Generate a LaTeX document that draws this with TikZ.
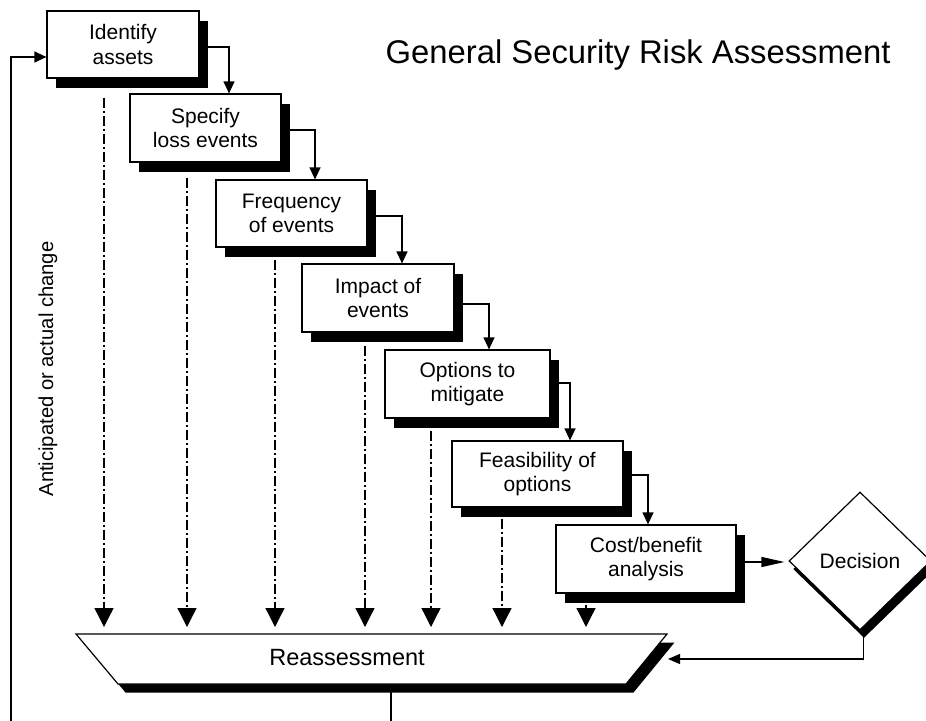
\documentclass[tikz,border=0pt]{standalone}
\usepackage{fontspec}
\setmainfont{Liberation Sans}
\usetikzlibrary{shapes.geometric,shadows,arrows.meta,calc}
\begin{document}
\begin{tikzpicture}[x=1pt,y=-1pt,
  boxshadow/.style={drop shadow={shadow xshift=9pt,shadow yshift=-9.5pt,fill=black,opacity=1}},
  stepbox/.style={draw=black,line width=1.2pt,fill=white,inner sep=0pt,align=center,
     font=\fontsize{21}{24.5}\selectfont,boxshadow},
  conn/.style={draw=black,line width=1.2pt,-{Triangle[length=12pt,width=11pt]}},
  bigconn/.style={draw=black,line width=1.2pt,-{Triangle[length=23pt,width=10pt]}},
  dd/.style={draw=black,line width=1.3pt,dash pattern=on 10pt off 3pt on 2pt off 3pt,
     -{Triangle[length=19pt,width=19pt]}},
  trapline/.style={draw=black,line width=1.2pt,fill=white,line join=miter},
  trapshadow/.style={fill=black},
]
\useasboundingbox (0,0) rectangle (926,720);
\clip (0,0) rectangle (926,720);

% title and side label
\node[font=\fontsize{32.8}{38}\selectfont,anchor=base west,inner sep=0pt] (title) at (385.5,63) {General Security Risk Assessment};
\node[font=\fontsize{20.2}{24}\selectfont,anchor=base,rotate=90,inner sep=0pt] (side) at (53,369) {Anticipated or actual change};

% steps
\node[stepbox,minimum width=152pt,minimum height=67pt] (b1) at (123,44.5) {Identify\\assets};
\node[stepbox,minimum width=151pt,minimum height=68pt] (b2) at (205.5,128) {Specify\\loss events};
\node[stepbox,minimum width=151pt,minimum height=67pt] (b3) at (291.5,213.5) {Frequency\\of events};
\node[stepbox,minimum width=152pt,minimum height=68pt] (b4) at (378,298) {Impact of\\events};
\node[stepbox,minimum width=165pt,minimum height=68pt] (b5) at (467.5,384) {Options to\\mitigate};
\node[stepbox,minimum width=171pt,minimum height=66pt] (b6) at (537.5,474) {Feasibility of\\options};
\node[stepbox,minimum width=180pt,minimum height=68pt] (b7) at (646,559) {Cost/benefit\\analysis};

% decision
\node[diamond,draw=black,line width=1.2pt,fill=white,inner sep=0pt,
      minimum width=142pt,minimum height=138pt,font=\fontsize{21}{24.5}\selectfont,
      drop shadow={shadow xshift=4pt,shadow yshift=-8pt,fill=black,opacity=1}] (dec) at (860,561) {Decision};

% reassessment (trapezoid drawn directly)
\coordinate (tl) at (76,634);
\coordinate (tr) at (667,634);
\coordinate (br) at (626,684);
\coordinate (bl) at (118,684);
\path[trapshadow] ($(tl)+(7.5,8.5)$) -- ($(tr)+(7.5,8.5)$) -- ($(br)+(7.5,8.5)$) -- ($(bl)+(7.5,8.5)$) -- cycle;
\path[trapline] (tl) -- (tr) -- (br) -- (bl) -- cycle;
\node[font=\fontsize{23.5}{28}\selectfont,inner sep=0pt] (rtext) at (347,658) {Reassessment};

% helper coordinates
\coordinate (rtop) at (371.5,627);
\coordinate (rin) at (668,659);
\coordinate (lb) at (391,692);
\coordinate (lc) at (11,735);
\coordinate (bin) at ([yshift=-12.5pt]b1.west);

% step connectors
\coordinate (s1) at ([yshift=-2.5pt]b1.east);
\coordinate (e1) at ([xshift=23.5pt]b2.north);
\coordinate (s2) at ([yshift=-2pt]b2.east);
\coordinate (e2) at ([xshift=23.5pt]b3.north);
\coordinate (s3) at ([yshift=-2.5pt]b3.east);
\coordinate (e3) at ([xshift=24pt]b4.north);
\coordinate (s4) at ([yshift=-6pt]b4.east);
\coordinate (e4) at ([xshift=21.5pt]b5.north);
\coordinate (s5) at ([yshift=1pt]b5.east);
\coordinate (e5) at ([xshift=32.5pt]b6.north);
\coordinate (s6) at ([yshift=-1pt]b6.east);
\coordinate (e6) at ([xshift=2pt]b7.north);
\draw[conn] (s1) -| (e1);
\draw[conn] (s2) -| (e2);
\draw[conn] (s3) -| (e3);
\draw[conn] (s4) -| (e4);
\draw[conn] (s5) -| (e5);
\draw[conn] (s6) -| (e6);

% to decision and back
\coordinate (s7) at ([yshift=-3pt]b7.east);
\draw[bigconn,shorten >=4pt] (s7) -- (s7 -| dec.west);
\coordinate (ds) at ([xshift=3.5pt]dec.south);
\draw[conn,-{Triangle[length=12pt,width=10pt]}] (ds) |- (rin);

% loop back to start
\draw[conn] (lb) |- (lc) |- (bin);

% dash-dot lines to reassessment
\coordinate (d1) at ($(b1.south)+(-19,19)$);
\coordinate (d2) at ($(b2.south)+(-18.5,15)$);
\coordinate (d3) at ($(b3.south)+(-16.5,12)$);
\coordinate (d4) at ($(b4.south)+(-13,13)$);
\coordinate (d5) at ($(b5.south)+(-36.5,12)$);
\coordinate (d6) at ($(b6.south)+(-35.5,11)$);
\coordinate (d7) at ($(b7.south)+(-60,11)$);
\foreach \d in {d1,d2,d3,d4,d5,d6,d7}{
  \draw[dd] (\d) -- (\d |- rtop);
}
\end{tikzpicture}
\end{document}
